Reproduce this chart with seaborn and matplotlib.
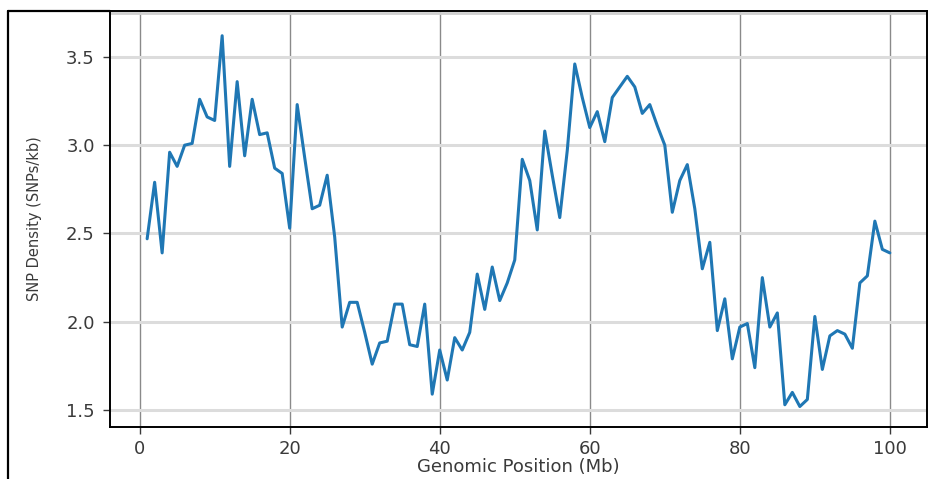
import numpy as np
import pandas as pd
import matplotlib
matplotlib.use("Agg")
import matplotlib.pyplot as plt
from matplotlib.lines import Line2D
import seaborn as sns

# Datos: posición (Mb) y densidad de SNPs (SNPs/kb)
posiciones = list(range(1, 101))
densidad = [
    2.47, 2.79, 2.39, 2.96, 2.88, 3.00, 3.01, 3.26, 3.16, 3.14,
    3.62, 2.88, 3.36, 2.94, 3.26, 3.06, 3.07, 2.87, 2.84, 2.53,
    3.23, 2.93, 2.64, 2.66, 2.83, 2.48, 1.97, 2.11, 2.11, 1.94,
    1.76, 1.88, 1.89, 2.10, 2.10, 1.87, 1.86, 2.10, 1.59, 1.84,
    1.67, 1.91, 1.84, 1.94, 2.27, 2.07, 2.31, 2.12, 2.22, 2.35,
    2.92, 2.80, 2.52, 3.08, 2.83, 2.59, 2.97, 3.46, 3.27, 3.10,
    3.19, 3.02, 3.27, 3.33, 3.39, 3.33, 3.18, 3.23, 3.11, 3.00,
    2.62, 2.80, 2.89, 2.64, 2.30, 2.45, 1.95, 2.13, 1.79, 1.97,
    1.99, 1.74, 2.25, 1.97, 2.05, 1.53, 1.60, 1.52, 1.56, 2.03,
    1.73, 1.92, 1.95, 1.93, 1.85, 2.22, 2.26, 2.57, 2.41, 2.39,
]
xticks = [0, 20, 40, 60, 80, 100]
yticks = [1.5, 2.0, 2.5, 3.0, 3.5]

df = pd.DataFrame({"pos": posiciones, "snp": densidad})

sns.set_style("white")
fig = plt.figure(figsize=(9.32, 4.79), dpi=100)
ax = fig.add_axes([110 / 932, 1 - 427 / 479, (927 - 110) / 932, (427 - 11) / 479])

sns.lineplot(data=df, x="pos", y="snp", ax=ax, color="#1f77b4", linewidth=2.2, zorder=3)

ax.set_xlim(-3.95, 104.95)
ax.set_ylim(1.404, 3.76)
ax.set_xticks(xticks)
ax.set_yticks(yticks)

# rejilla: verticales oscuras y finas, horizontales claras y gruesas
for xv in xticks:
    ax.axvline(xv, color="#8a8a8a", linewidth=1.0, zorder=1)
for yv in yticks:
    ax.axhline(yv, color="#dcdcdc", linewidth=2.2, zorder=1)

ax.tick_params(axis="both", labelsize=13, colors="#3a3a3a", length=5, width=1,
               direction="out", left=True, bottom=True)
ax.tick_params(axis="y", pad=6)
ax.tick_params(axis="x", pad=4)
for lab in ax.get_xticklabels() + ax.get_yticklabels():
    lab.set_color("#3a3a3a")

for s in ["left", "bottom", "right", "top"]:
    ax.spines[s].set_color("black")
    ax.spines[s].set_linewidth(1.4)
ax.axhline(3.748, color="#cfcfcf", linewidth=2.0, zorder=1)

ax.set_xlabel("Genomic Position (Mb)", fontsize=13, color="#3a3a3a", labelpad=0)
ax.set_ylabel("SNP Density (SNPs/kb)", fontsize=10.5,
              family=["Liberation Sans Narrow", "DejaVu Sans"], color="#3a3a3a", labelpad=17)

# marco exterior de la captura
fig.add_artist(Line2D([8 / 932, 8 / 932], [0, 1 - 11 / 479], transform=fig.transFigure,
                      color="black", linewidth=1.6))
fig.add_artist(Line2D([8 / 932, 110 / 932], [1 - 11 / 479, 1 - 11 / 479], transform=fig.transFigure,
                      color="black", linewidth=1.6))

fig.savefig("out.png", dpi=100)
